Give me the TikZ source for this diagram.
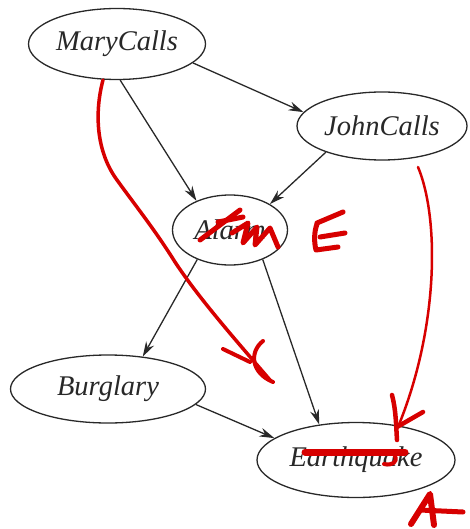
\documentclass[tikz,border=0pt]{standalone}
\usepackage{fontspec}
\setmainfont{Liberation Serif}
\usetikzlibrary{shapes.geometric,arrows.meta}
\definecolor{ink}{RGB}{40,40,40}
\definecolor{pen}{RGB}{215,0,0}
\begin{document}
\begin{tikzpicture}[x=1pt,y=-1pt,
  var/.style={ellipse,draw=ink,line width=1.3pt,inner sep=0pt,text=ink,
    font=\fontsize{28.5}{30}\selectfont\itshape},
  edge/.style={draw=ink,line width=1.3pt,-{Stealth[length=15pt,width=9pt]}},
  scrib/.style={draw=pen,line width=5pt,line cap=round,line join=round},
  thin/.style={draw=pen,line width=3pt,line cap=round,line join=round}]
\useasboundingbox (0,0) rectangle (469,529);
\node[var,minimum width=177pt,minimum height=71pt] (mary) at (117,44) {MaryCalls};
\node[var,minimum width=170pt,minimum height=68pt] (john) at (382,126) {JohnCalls};
\node[var,minimum width=115pt,minimum height=70pt] (alarm) at (230,230) {Alarm};
\node[var,minimum width=195pt,minimum height=68pt] (burg) at (108,389) {Burglary};
\node[var,minimum width=198pt,minimum height=75pt] (quake) at (356,460) {Earthquake};
\draw[edge] (mary.-14) -- (john.170);
\draw[edge] (mary.-85) -- (alarm.139);
\draw[edge] (john.-155) -- (alarm.33);
\draw[edge] (alarm.-138) -- (burg.43);
\draw[edge] (alarm.-42) -- (quake.136);
\draw[edge] (burg.-10) -- (quake.165);
% red annotations
\coordinate (r1) at (103,80);
\draw[thin,line width=3.5pt] (r1) .. controls (95,110) and (95,150) .. (117,180)
  .. controls (135,205) and (155,230) .. (175,262)
  .. controls (200,300) and (240,345) .. (270,380);
\draw[thin,line width=4pt] (223,349) -- (250,362);
\draw[thin,line width=4pt] (263,341) .. controls (249,352) and (251,373) .. (273,382);
\coordinate (r2) at (418,167);
\draw[thin,line width=2.5pt] (r2) .. controls (440,220) and (438,330) .. (398,427);
\draw[thin,line width=4.5pt] (392,395) .. controls (396,410) and (396,425) .. (397,440);
\draw[thin,line width=4.5pt] (397,427) -- (423,412);
% scribble over Alarm
\draw[scrib] (200,240) -- (240,210);
\draw[scrib] (218,222) -- (243,217);
\draw[scrib] (232,233) -- (248,223) -- (243,243) -- (257,227) -- (255,245) -- (270,228) -- (278,247);
% E
\draw[scrib] (317,224) .. controls (314,232) and (314,242) .. (316,250) -- (338,247);
\draw[scrib] (317,223) -- (343,212);
\draw[scrib] (320,237) -- (345,233);
% strike through Earthquake
\draw[scrib,line width=7pt] (305,452) -- (405,452);
\draw[scrib,line width=4pt] (395,456) .. controls (398,462) and (392,466) .. (384,464);
% A
\draw[scrib,line width=6pt] (411,524) -- (430,494) -- (434,525);
\draw[scrib,line width=5pt] (420,510) -- (463,512);
\end{tikzpicture}
\end{document}
